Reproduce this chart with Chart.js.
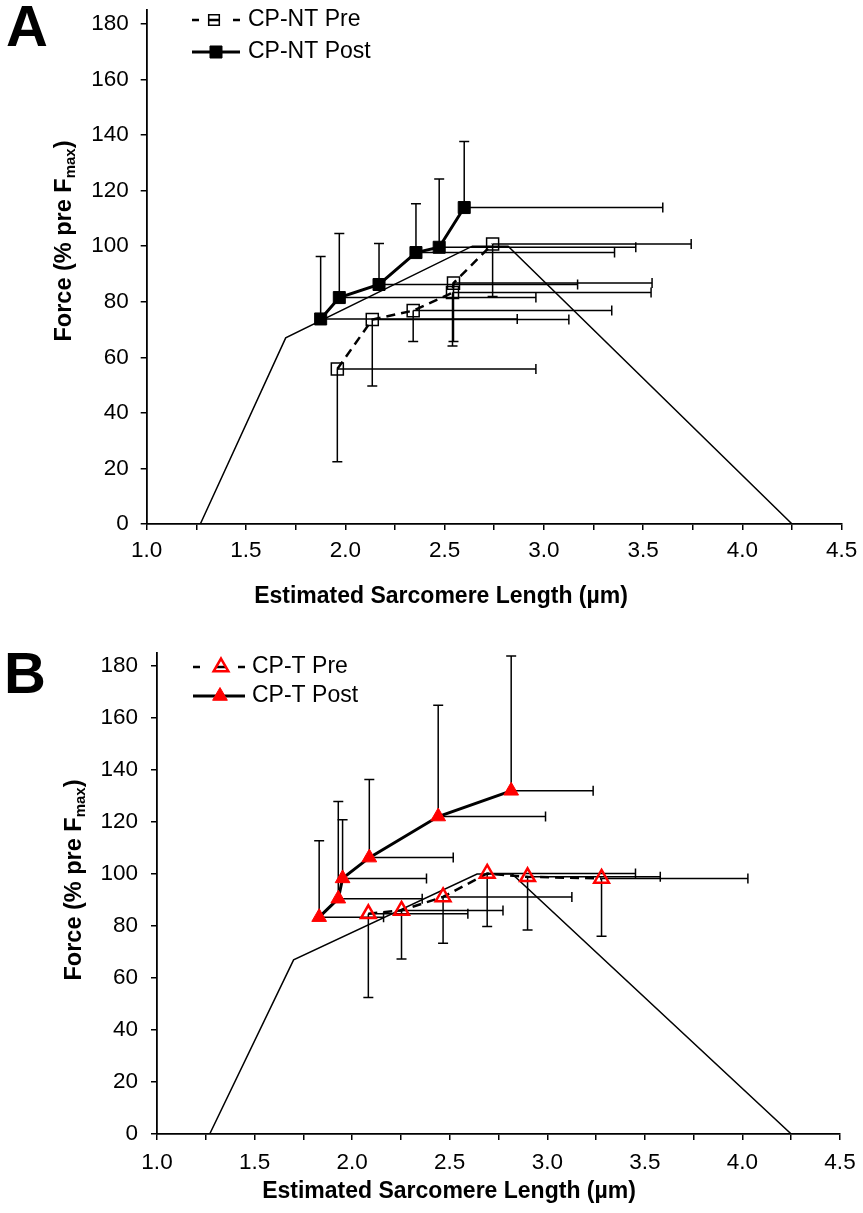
<!DOCTYPE html>
<html>
<head>
<meta charset="utf-8">
<script src="https://cdn.jsdelivr.net/npm/chart.js@4.4.1/dist/chart.umd.min.js"></script>
<style>
  html, body { margin: 0; padding: 0; background: #fff; }
  #wrap { position: relative; width: 863px; height: 1213px; }
  canvas { position: absolute; left: 0; }
</style>
</head>
<body>
<div id="wrap">
  <canvas id="chartA" width="863" height="610" style="top:0px"></canvas>
  <canvas id="chartB" width="863" height="603" style="top:610px"></canvas>
</div>
<script>
// length-tension reference curve (same in both panels)
const curveX = [1.27, 1.7, 2.64, 2.82, 4.25];
const curveY = [0, 67, 100, 100, 0];

// panel A - CP-NT
const ntPreX    = [1.960, 2.136, 2.342, 2.540, 2.545, 2.742];
const ntPreY    = [55.8, 73.6, 76.8, 83.3, 86.7, 100.8];
const ntPreYErr = [33.4, 23.9, 11.1, 19.2, 21.0, 18.9];
const ntPreXErr = [1.00, 0.99, 1.00, 1.00, 1.00, 1.00];

const ntPostX    = [1.876, 1.970, 2.170, 2.356, 2.473, 2.599];
const ntPostY    = [73.8, 81.5, 86.2, 97.7, 99.6, 113.9];
const ntPostYErr = [22.5, 23.1, 14.8, 17.6, 24.6, 23.8];
const ntPostXErr = [0.99, 0.99, 1.00, 1.00, 0.99, 1.00];

// panel B - CP-T
const tPreX    = [2.083, 2.253, 2.466, 2.692, 2.899, 3.278];
const tPreY    = [84.7, 86.0, 91.2, 100.2, 98.9, 98.3];
const tPreYErr = [32.2, 18.7, 17.8, 20.4, 20.4, 22.2];
const tPreXErr = [0.51, 0.52, 0.66, 0.76, 0.68, 0.75];

const tPostX    = [1.831, 1.929, 1.951, 2.088, 2.441, 2.815];
const tPostY    = [83.4, 90.5, 98.3, 106.3, 122.1, 132.0];
const tPostYErr = [29.4, 37.4, 22.6, 30.0, 42.8, 51.8];
const tPostXErr = [0.33, 0.43, 0.43, 0.43, 0.55, 0.42];

const xTicks = [1.0, 1.5, 2.0, 2.5, 3.0, 3.5, 4.0, 4.5];
const yTicks = [0, 20, 40, 60, 80, 100, 120, 140, 160, 180];

const FONT = "'Liberation Sans', Arial, sans-serif";
Chart.defaults.font.family = FONT;
Chart.defaults.color = '#000';

function pts(xs, ys) { return xs.map((x, i) => ({ x: x, y: ys[i] })); }

// error bars: vertical (up for Post, down for Pre) and horizontal (right)
const errorBars = {
  id: 'errorBars',
  beforeDatasetsDraw(chart, args, opts) {
    const ctx = chart.ctx, sx = chart.scales.x, sy = chart.scales.y;
    const cap = 5;
    ctx.save();
    ctx.strokeStyle = '#000';
    ctx.lineWidth = 1.5;
    opts.sets.forEach(s => {
      s.xs.forEach((xv, i) => {
        const px = sx.getPixelForValue(xv), py = sy.getPixelForValue(s.ys[i]);
        const ex = sx.getPixelForValue(xv + s.xErr[i]);
        const ey = sy.getPixelForValue(s.ys[i] + s.dir * s.yErr[i]);
        ctx.beginPath();
        ctx.moveTo(px, py); ctx.lineTo(ex, py);
        ctx.moveTo(ex, py - cap); ctx.lineTo(ex, py + cap);
        ctx.moveTo(px, py); ctx.lineTo(px, ey);
        ctx.moveTo(px - cap, ey); ctx.lineTo(px + cap, ey);
        ctx.stroke();
      });
    });
    ctx.restore();
  }
};

// panel letter, axis titles and legend
const decor = {
  id: 'decor',
  afterDraw(chart, args, o) {
    const ctx = chart.ctx;
    ctx.save();
    ctx.fillStyle = '#000';
    ctx.font = 'bold 58px ' + FONT;
    ctx.textAlign = 'left';
    ctx.textBaseline = 'alphabetic';
    ctx.fillText(o.letter, o.letterX, o.letterY);

    ctx.font = 'bold 23px ' + FONT;
    ctx.textAlign = 'center';
    ctx.textBaseline = 'middle';
    ctx.fillText('Estimated Sarcomere Length (\u00b5m)', o.xTitleX, o.xTitleY);

    // y title with subscript
    ctx.save();
    ctx.translate(o.yTitleX, o.yTitleY);
    ctx.rotate(-Math.PI / 2);
    const big = 'bold 23.5px ' + FONT, small = 'bold 15px ' + FONT;
    ctx.font = big;
    const w1 = ctx.measureText('Force (% pre F').width;
    const w3 = ctx.measureText(')').width;
    ctx.font = small;
    const w2 = ctx.measureText('max').width;
    let ux = -(w1 + w2 + w3) / 2;
    ctx.textAlign = 'left';
    ctx.textBaseline = 'alphabetic';
    ctx.font = big; ctx.fillText('Force (% pre F', ux, 0); ux += w1;
    ctx.font = small; ctx.fillText('max', ux, 4); ux += w2;
    ctx.font = big; ctx.fillText(')', ux, 0);
    ctx.restore();

    // legend
    o.legend.forEach(it => {
      const ds = chart.data.datasets[it.ds];
      ctx.save();
      ctx.strokeStyle = '#000';
      ctx.lineWidth = ds.borderWidth;
      ctx.beginPath();
      if (ds.borderDash) {
        ctx.moveTo(it.x1, it.y); ctx.lineTo(it.x1 + 7, it.y);
        ctx.moveTo(it.mx - 5, it.y); ctx.lineTo(it.mx + 5, it.y);
        ctx.moveTo(it.x2 - 7, it.y); ctx.lineTo(it.x2, it.y);
      } else {
        ctx.moveTo(it.x1, it.y); ctx.lineTo(it.x2, it.y);
      }
      ctx.stroke();
      ctx.fillStyle = ds.pointBackgroundColor;
      ctx.strokeStyle = ds.pointBorderColor;
      ctx.lineWidth = ds.pointBorderWidth;
      Chart.helpers.drawPoint(ctx, {
        pointStyle: ds.pointStyle, radius: it.r, rotation: 0, borderWidth: ds.pointBorderWidth
      }, it.mx, it.y);
      ctx.restore();
      ctx.fillStyle = '#000';
      ctx.font = '23px ' + FONT;
      ctx.textAlign = 'left';
      ctx.textBaseline = 'middle';
      ctx.fillText(it.label, it.tx, it.y);
    });
    ctx.restore();
  }
};

function makeChart(id, pre, post, marker, pad, tickPadX, tickPadY, preColor, postColor, decorOpts) {
  return new Chart(document.getElementById(id), {
    type: 'scatter',
    data: {
      datasets: [
        {
          label: decorOpts.legend[1].label,
          data: pts(post.x, post.y),
          showLine: true, borderColor: '#000', borderWidth: 3,
          pointStyle: marker, pointRadius: 8.5, pointHoverRadius: 8.5,
          pointBackgroundColor: postColor, pointBorderColor: postColor, pointBorderWidth: 1,
          order: 0
        },
        {
          label: decorOpts.legend[0].label,
          data: pts(pre.x, pre.y),
          showLine: true, borderColor: '#000', borderWidth: 2.5, borderDash: [9, 6],
          pointStyle: marker, pointRadius: 8.5, pointHoverRadius: 8.5,
          pointBackgroundColor: 'rgba(0,0,0,0)', pointBorderColor: preColor,
          pointBorderWidth: marker === 'rect' ? 1.5 : 2.5,
          order: 1
        },
        {
          label: 'curve',
          data: pts(curveX, curveY),
          showLine: true, borderColor: '#000', borderWidth: 1.5,
          pointRadius: 0, pointHoverRadius: 0,
          order: 2
        }
      ]
    },
    options: {
      responsive: false,
      animation: false,
      events: [],
      layout: { padding: pad },
      plugins: {
        legend: { display: false },
        tooltip: { enabled: false },
        errorBars: {
          sets: [
            { xs: post.x, ys: post.y, xErr: post.xErr, yErr: post.yErr, dir: 1 },
            { xs: pre.x, ys: pre.y, xErr: pre.xErr, yErr: pre.yErr, dir: -1 }
          ]
        },
        decor: decorOpts
      },
      scales: {
        x: {
          type: 'linear', min: 1, max: 4.5,
          ticks: {
            stepSize: 0.25, autoSkip: false, maxRotation: 0, padding: tickPadX,
            font: { size: 22.5 }, color: '#000',
            callback: v => xTicks.some(t => Math.abs(t - v) < 1e-6) ? v.toFixed(1) : ''
          },
          grid: { drawOnChartArea: false, drawTicks: true, tickLength: 6, color: '#000', lineWidth: 1.5 },
          border: { color: '#000', width: 1.8 },
          afterFit(s) { s.height = 50; s.paddingLeft = 0; s.paddingRight = 0; s.paddingTop = 0; s.paddingBottom = 0; }
        },
        y: {
          type: 'linear', min: 0, max: 185,
          afterBuildTicks(s) { s.ticks = yTicks.map(v => ({ value: v })); },
          ticks: { stepSize: 20, padding: tickPadY, font: { size: 22.5 }, color: '#000' },
          grid: { drawOnChartArea: false, drawTicks: true, tickLength: 6, color: '#000', lineWidth: 1.5 },
          border: { color: '#000', width: 1.8 },
          afterFit(s) { s.width = 80; s.paddingLeft = 0; s.paddingRight = 0; s.paddingTop = 0; s.paddingBottom = 0; }
        }
      }
    },
    plugins: [errorBars, decor]
  });
}

makeChart('chartA',
  { x: ntPreX, y: ntPreY, xErr: ntPreXErr, yErr: ntPreYErr },
  { x: ntPostX, y: ntPostY, xErr: ntPostXErr, yErr: ntPostYErr },
  'rect',
  { left: 66.7, right: 21.3, top: 3, bottom: 36 }, 7, 12,
  '#000', '#000',
  {
    letter: 'A', letterX: 6, letterY: 46,
    xTitleX: 441, xTitleY: 597,
    yTitleX: 71, yTitleY: 241,
    legend: [
      { ds: 1, label: 'CP-NT Pre', x1: 192, x2: 240, mx: 214, y: 20, r: 7.5, tx: 248 },
      { ds: 0, label: 'CP-NT Post', x1: 192, x2: 240, mx: 216, y: 52, r: 8.5, tx: 248 }
    ]
  });

makeChart('chartB',
  { x: tPreX, y: tPreY, xErr: tPreXErr, yErr: tPreYErr },
  { x: tPostX, y: tPostY, xErr: tPostXErr, yErr: tPostYErr },
  'triangle',
  { left: 77, right: 23, top: 43, bottom: 29 }, 9, 13,
  '#f00', '#f00',
  {
    letter: 'B', letterX: 4, letterY: 83,
    xTitleX: 449, xTitleY: 582,
    yTitleX: 81, yTitleY: 270,
    legend: [
      { ds: 1, label: 'CP-T Pre', x1: 193, x2: 245, mx: 221, y: 57, r: 8.5, tx: 252 },
      { ds: 0, label: 'CP-T Post', x1: 193, x2: 245, mx: 220, y: 86, r: 8.5, tx: 252 }
    ]
  });
</script>
</body>
</html>
